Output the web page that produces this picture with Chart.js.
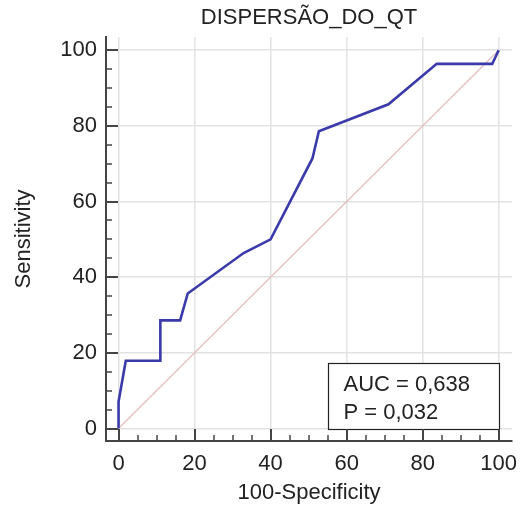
<!DOCTYPE html>
<html>
<head>
<meta charset="utf-8">
<script src="https://cdn.jsdelivr.net/npm/chart.js@4"></script>
<style>
  html, body { margin: 0; padding: 0; background: #fff; }
  canvas { display: block; }
</style>
</head>
<body>
<canvas id="roc-chart" width="522" height="509"></canvas>
<script>
// ROC curve points (100-Specificity, Sensitivity)
const SPECIFICITY_X = [0, 0, 1.9, 11, 11, 16.2, 18.2, 32.9, 40, 51, 52.7, 71, 83.7, 98.3, 100];
const SENSITIVITY = [0, 7.1, 17.9, 17.9, 28.6, 28.6, 35.7, 46.4, 50, 71.4, 78.6, 85.7, 96.4, 96.4, 100];

// Reference diagonal
const DIAG_X = [0, 100];
const DIAG_Y = [0, 100];

// Axis ticks
const TICK_VALUES = [0, 20, 40, 60, 80, 100];
const MINOR_STEP = 5;

// Annotation text
const STATS_LINES = ["AUC = 0,638", "P = 0,032"];

const FONT = "'Liberation Sans', Arial, sans-serif";
const AXIS_COLOR = "#444";

function toPoints(xs, ys) {
  return xs.map((x, i) => ({ x: x, y: ys[i] }));
}

// Inward major/minor tick marks on both axes
const axisTicks = {
  id: "axisTicks",
  afterDraw(chart) {
    const { ctx } = chart;
    const x = chart.scales.x;
    const y = chart.scales.y;
    const lastTick = TICK_VALUES[TICK_VALUES.length - 1];
    ctx.save();
    ctx.strokeStyle = AXIS_COLOR;
    for (let v = TICK_VALUES[0]; v <= lastTick; v += MINOR_STEP) {
      const major = TICK_VALUES.includes(v);
      const len = major ? 12 : 6;
      ctx.lineWidth = major ? 2 : 1.5;
      const px = Math.round(x.getPixelForValue(v));
      ctx.beginPath();
      ctx.moveTo(px, chart.chartArea.bottom);
      ctx.lineTo(px, chart.chartArea.bottom - len);
      ctx.stroke();
      const py = Math.round(y.getPixelForValue(v));
      ctx.beginPath();
      ctx.moveTo(chart.chartArea.left, py);
      ctx.lineTo(chart.chartArea.left + len, py);
      ctx.stroke();
    }
    ctx.restore();
  },
};

// AUC / P box in the lower right corner
const statsBox = {
  id: "statsBox",
  afterDatasetsDraw(chart) {
    const { ctx } = chart;
    const x = chart.scales.x;
    const y = chart.scales.y;
    const left = Math.round(x.getPixelForValue(55)) + 0.5;
    const right = Math.round(x.getPixelForValue(100)) + 0.5;
    const top = Math.round(y.getPixelForValue(17.2)) + 0.5;
    const bottom = Math.round(y.getPixelForValue(-0.2)) + 0.5;
    ctx.save();
    ctx.fillStyle = "#fff";
    ctx.fillRect(left, top, right - left, bottom - top);
    ctx.strokeStyle = "#222";
    ctx.lineWidth = 1.2;
    ctx.strokeRect(left, top, right - left, bottom - top);
    ctx.fillStyle = "#222";
    ctx.font = "22px " + FONT;
    ctx.textBaseline = "alphabetic";
    STATS_LINES.forEach((line, i) => {
      ctx.fillText(line, left + 15, top + 27 + i * 28);
    });
    ctx.restore();
  },
};

const ctx = document.getElementById("roc-chart").getContext("2d");

new Chart(ctx, {
  type: "scatter",
  data: {
    datasets: [
      {
        label: "Diagonal",
        data: toPoints(DIAG_X, DIAG_Y),
        showLine: true,
        borderColor: "#e4c0c0",
        borderWidth: 1.3,
        pointRadius: 0,
        order: 2,
      },
      {
        label: "ROC",
        data: toPoints(SPECIFICITY_X, SENSITIVITY),
        showLine: true,
        borderColor: "#3a3aaa",
        borderWidth: 2.6,
        pointRadius: 0,
        borderJoinStyle: "miter",
        order: 1,
      },
    ],
  },
  options: {
    responsive: false,
    animation: false,
    devicePixelRatio: 1,
    layout: { padding: { top: 0, right: 10, bottom: 0, left: 0 } },
    plugins: {
      legend: { display: false },
      tooltip: { enabled: false },
      title: {
        display: true,
        text: "DISPERSÃO_DO_QT",
        fullSize: false,
        color: "#222",
        font: { family: FONT, size: 22, weight: "normal" },
        padding: { top: 5, bottom: 5.6 },
      },
    },
    scales: {
      x: {
        type: "linear",
        min: -3.3,
        max: 103.5,
        afterBuildTicks: (scale) => {
          scale.ticks = TICK_VALUES.map((v) => ({ value: v }));
        },
        afterFit: (scale) => {
          scale.height = 68;
          scale.paddingLeft = 0;
          scale.paddingRight = 0;
        },
        grid: { color: "#e2e2e2", lineWidth: 1.5, drawTicks: false },
        border: { display: true, color: AXIS_COLOR, width: 2 },
        ticks: {
          color: "#222",
          padding: 10,
          maxRotation: 0,
          font: { family: FONT, size: 22 },
        },
        title: {
          display: true,
          text: "100-Specificity",
          color: "#222",
          font: { family: FONT, size: 22 },
          padding: { top: 0, bottom: 2.5 },
        },
      },
      y: {
        type: "linear",
        min: -3.3,
        max: 103.5,
        afterBuildTicks: (scale) => {
          scale.ticks = TICK_VALUES.map((v) => ({ value: v }));
        },
        afterFit: (scale) => {
          scale.width = 106;
          scale.paddingTop = 0;
          scale.paddingBottom = 0;
        },
        grid: { color: "#e2e2e2", lineWidth: 1.5, drawTicks: false },
        border: { display: true, color: AXIS_COLOR, width: 2 },
        ticks: {
          color: "#222",
          padding: 9,
          font: { family: FONT, size: 22 },
        },
        title: {
          display: true,
          text: "Sensitivity",
          color: "#222",
          font: { family: FONT, size: 22 },
          padding: { top: 11, bottom: 0 },
        },
      },
    },
  },
  plugins: [statsBox, axisTicks],
});
</script>
</body>
</html>
